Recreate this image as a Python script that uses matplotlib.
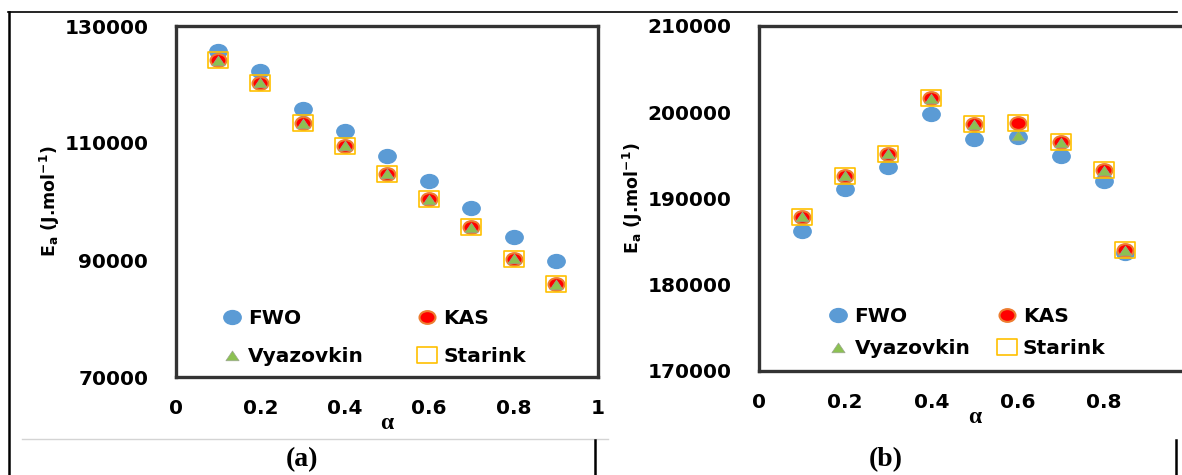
"""
Activation energy vs conversion: FWO, KAS, Vyazovkin and Starink, panels (a) and (b)
"""

import matplotlib
matplotlib.use("Agg")
import matplotlib.pyplot as plt
from matplotlib.path import Path
from matplotlib.lines import Line2D

# ---- data ----
alpha_a = [0.1, 0.2, 0.3, 0.4, 0.5, 0.6, 0.7, 0.8, 0.9]
fwo_a = [125750, 122300, 115850, 112100, 107700, 103470, 98830, 93900, 89900]
kas_a = [124150, 120320, 113380, 109540, 104780, 100380, 95620, 90240, 85820]
vyaz_a = [124200, 120400, 113450, 109600, 104850, 100450, 95700, 90300, 85900]
starink_a = [124150, 120320, 113380, 109540, 104780, 100380, 95620, 90240, 85820]

alpha_b = [0.1, 0.2, 0.3, 0.4, 0.5, 0.6, 0.7, 0.8, 0.85]
fwo_b = [186230, 191070, 193620, 199800, 196930, 197100, 194960, 192030, 183720]
kas_b = [187890, 192640, 195190, 201650, 198600, 198720, 196520, 193270, 183990]
vyaz_b = [187950, 192700, 195250, 201700, 198650, 197360, 196580, 193330, 184050]
starink_b = [187890, 192640, 195190, 201650, 198600, 198720, 196520, 193270, 183990]

yticks_a = [70000, 90000, 110000, 130000]
yticks_b = [170000, 180000, 190000, 200000, 210000]
xticks_a = [0, 0.2, 0.4, 0.6, 0.8, 1]
xticklabels_a = ["0", "0.2", "0.4", "0.6", "0.8", "1"]
xticks_b = [0, 0.2, 0.4, 0.6, 0.8]          # "1" falls outside the cropped picture
xticklabels_b = ["0", "0.2", "0.4", "0.6", "0.8"]
labels = ["FWO", "KAS", "Vyazovkin", "Starink"]

# ---- styles ----
BLUE = "#5B9BD5"
ORANGE = "#ED7D31"
GREEN = "#8CC152"
GOLD = "#FFC000"

plt.rcParams["font.family"] = ["DejaVu Sans"]
plt.rcParams["mathtext.default"] = "bf"

# squashed markers (the source image is a bit stretched sideways)
circ = Path.unit_circle()
ELLIPSE = Path(circ.vertices * [1.25, 1.0], circ.codes)
SQUARE = Path([(-1.25, -1), (1.25, -1), (1.25, 1), (-1.25, 1), (-1.25, -1)],
              [Path.MOVETO, Path.LINETO, Path.LINETO, Path.LINETO, Path.CLOSEPOLY])
TRIANGLE = Path([(0, 0.85), (-1.25, -1), (1.25, -1), (0, 0.85)],
                [Path.MOVETO, Path.LINETO, Path.LINETO, Path.CLOSEPOLY])


def draw_panel(ax, x, fwo, kas, vyaz, star, ylim, yticks, xticks, xticklabels,
               leg_anchor, colspace, rowspace):
    h1, = ax.plot(x, fwo, ls="none", marker=ELLIPSE, ms=12.5, mfc=BLUE, mec=BLUE,
                  label=labels[0], zorder=3)
    h2, = ax.plot(x, kas, ls="none", marker=ELLIPSE, ms=11.5, mfc="red", mec=ORANGE, mew=1.5,
                  label=labels[1], zorder=4)
    h3, = ax.plot(x, vyaz, ls="none", marker=TRIANGLE, ms=9.5, mfc=GREEN, mec="#9aa58f", mew=0.5,
                  label=labels[2], zorder=5)
    h4, = ax.plot(x, star, ls="none", marker=SQUARE, ms=14.5, mfc="none", mec=GOLD, mew=1.2,
                  label=labels[3], zorder=6)

    ax.set_xlim(0, 1)
    ax.set_ylim(*ylim)
    ax.set_xticks(xticks)
    ax.set_xticklabels(xticklabels)
    ax.set_yticks(yticks)
    ax.set_yticklabels([str(v) for v in yticks])
    ax.tick_params(length=0, labelsize=14.5)
    ax.tick_params(axis="y", pad=20)
    ax.tick_params(axis="x", pad=16)
    for t in ax.get_xticklabels() + ax.get_yticklabels():
        t.set_fontweight("bold")
    for s in ax.spines.values():
        s.set_linewidth(2.4)
        s.set_color("#333333")

    ax.set_xlabel("α", family="Liberation Serif", fontsize=17, fontweight="bold", labelpad=-4)
    ax.set_ylabel("E$_a$ (J.mol$^{-1}$)", fontsize=12.5, fontweight="bold")

    # row-major order: FWO, KAS on top row; Vyazovkin, Starink below
    ax.legend([h1, h3, h2, h4], [labels[0], labels[2], labels[1], labels[3]],
              loc="lower left", bbox_to_anchor=leg_anchor, ncol=2, frameon=False,
              prop={"weight": "bold", "size": 14.5}, handletextpad=0.3,
              columnspacing=colspace, labelspacing=rowspace, handlelength=1.0,
              borderpad=0, borderaxespad=0)


fig = plt.figure(figsize=(11.82, 4.75), dpi=100)
W, H = 1182, 475

ax_a = fig.add_axes([176 / W, 1 - 377 / H, 422 / W, 351 / H])
ax_b = fig.add_axes([759 / W, 1 - 371 / H, 431 / W, 345 / H])

draw_panel(ax_a, alpha_a, fwo_a, kas_a, vyaz_a, starink_a, (70000, 130000), yticks_a,
           xticks_a, xticklabels_a, (0.109, 0.03), 2.65, 0.95)
draw_panel(ax_b, alpha_b, fwo_b, kas_b, vyaz_b, starink_b, (170000, 210000), yticks_b,
           xticks_b, xticklabels_b, (0.161, 0.037), 1.3, 0.65)

ax_a.yaxis.set_label_coords(-0.27, 0.5)
ax_b.yaxis.set_label_coords(-0.265, 0.5)

# table borders around the two panels
def fig_line(x0, y0, x1, y1, color="black", lw=1.0):
    fig.add_artist(Line2D([x0 / W, x1 / W], [1 - y0 / H, 1 - y1 / H],
                          transform=fig.transFigure, color=color, lw=lw))

fig_line(8, 12, 1177, 12, lw=1.2)
fig_line(9, 12, 9, 475, lw=1.8)
fig_line(22, 439, 608, 439, color="#d4d4d4", lw=1.0)
fig_line(595, 440, 595, 475, lw=1.8)
fig_line(1176, 440, 1176, 475, lw=1.8)

fig.text(302 / W, 1 - 460 / H, "(a)", family="Liberation Serif", fontsize=20,
         fontweight="bold", ha="center", va="center")
fig.text(886 / W, 1 - 460 / H, "(b)", family="Liberation Serif", fontsize=20,
         fontweight="bold", ha="center", va="center")

fig.savefig("out.png", dpi=100)
plt.close(fig)
print("Saved: out.png")
